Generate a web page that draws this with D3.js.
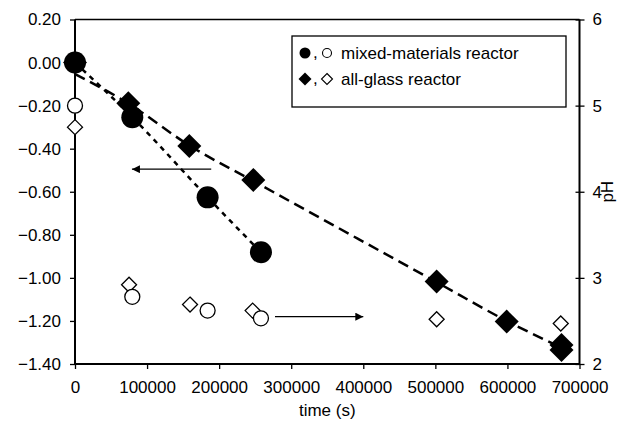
<!DOCTYPE html>
<html>
<head>
<meta charset="utf-8">
<script src="https://cdn.jsdelivr.net/npm/d3@7/dist/d3.min.js"></script>
<style>
  html, body { margin: 0; padding: 0; background: #fff; }
  svg { display: block; font-family: "Liberation Sans", Arial, sans-serif; }
</style>
</head>
<body>
<svg id="chart" width="630" height="428"></svg>
<script>
// ---- data (time in s) ----
// filled circles: mixed-materials reactor, left axis
const mixedTime = [0, 79500, 184000, 258000];
const mixedLeft = [0.00, -0.254, -0.626, -0.881];
// filled diamonds: all-glass reactor, left axis
const glassTime = [0, 74000, 158600, 247400, 501800, 599000, 675000, 675000];
const glassLeft = [0.00, -0.189, -0.387, -0.545, -1.017, -1.203, -1.312, -1.335];
// open circles: mixed-materials reactor, pH
const mixedPHTime = [0, 79500, 184000, 258000];
const mixedPH = [5.00, 2.78, 2.62, 2.53];
// open diamonds: all-glass reactor, pH
const glassPHTime = [0, 75000, 159600, 246500, 501800, 599000, 674000];
const glassPH = [4.75, 2.92, 2.69, 2.62, 2.52, 2.49, 2.47];
// dashed trend line (all-glass)
const glassFitTime = [0, 74000, 158600, 247400, 501800, 599000, 672000];
const glassFitLeft = [-0.053, -0.19, -0.385, -0.55, -1.02, -1.2, -1.32];
// tick labels
const xTicks = [0, 100000, 200000, 300000, 400000, 500000, 600000, 700000];
const yLeftTicks = [0.2, 0.0, -0.2, -0.4, -0.6, -0.8, -1.0, -1.2, -1.4];
const yRightTicks = [2, 3, 4, 5, 6];
// arrows [x1, x2, y] in data units (left arrow on left axis, right arrow on pH axis)
const arrowLeft = [189000, 79000, -0.495];
const arrowRight = [277500, 400000, 2.55];
const legendLabels = ["mixed-materials reactor", "all-glass reactor"];

// ---- layout ----
const svg = d3.select("#chart");
const L = 75, R = 579.5, T = 19.5, B = 364;
const x = d3.scaleLinear().domain([0, 700000]).range([L, R]);
const yL = d3.scaleLinear().domain([-1.4, 0.2]).range([B, T]);
const yR = d3.scaleLinear().domain([2, 6]).range([B, T]);
const FS = 17;

// top border
svg.append("line").attr("x1", L).attr("x2", R).attr("y1", T).attr("y2", T)
  .attr("stroke", "#000").attr("stroke-width", 1.5);

// axes
const gx = svg.append("g").attr("transform", `translate(0,${B})`)
  .call(d3.axisBottom(x).tickValues(xTicks).tickFormat(d3.format("d")).tickSize(5).tickPadding(12));
const gl = svg.append("g").attr("transform", `translate(${L},0)`)
  .call(d3.axisLeft(yL).tickValues(yLeftTicks).tickFormat(d => d3.format(".2f")(d).replace("-", "\u2212")).tickSize(5).tickPadding(9));
const gr = svg.append("g").attr("transform", `translate(${R},0)`)
  .call(d3.axisRight(yR).tickValues(yRightTicks).tickFormat(d3.format("d")).tickSize(5).tickPadding(8));
gr.selectAll(".tick line").attr("x1", -4);
[gx, gl, gr].forEach(g => {
  g.select(".domain").attr("stroke-width", 2).attr("stroke", "#000");
  g.selectAll(".tick line").attr("stroke", "#000").attr("stroke-width", 1.3);
  g.selectAll(".tick text").attr("font-size", FS).attr("fill", "#000")
    .attr("font-family", '"Liberation Sans", Arial, sans-serif');
});
gx.select(".domain").attr("d", `M${L},0H${R}`);
gl.select(".domain").attr("d", `M0,${B}V${T}`);
gr.select(".domain").attr("d", `M0,${B}V${T}`);

// axis titles
svg.append("text").attr("x", (L + R) / 2).attr("y", 416).attr("text-anchor", "middle")
  .attr("font-size", FS).text("time (s)");
svg.append("text").attr("transform", `translate(613,${yR(4)}) rotate(-90)`)
  .attr("text-anchor", "middle").attr("font-size", FS).text("pH");

// lines
const fitData = glassFitTime.map((t, i) => [t, glassFitLeft[i]]);
const mixData = mixedTime.map((t, i) => [t, mixedLeft[i]]);
const lineGen = d3.line().x(d => x(d[0])).y(d => yL(d[1])).curve(d3.curveMonotoneX);
svg.append("path").attr("d", lineGen(fitData)).attr("fill", "none")
  .attr("stroke", "#000").attr("stroke-width", 2.5).attr("stroke-dasharray", "11,6");
svg.append("path").attr("d", lineGen(mixData)).attr("fill", "none")
  .attr("stroke", "#000").attr("stroke-width", 2.5).attr("stroke-dasharray", "5,5");

// markers
const diamond = (s) => `M0,${-s}L${s},0L0,${s}L${-s},0Z`;
// open diamonds (pH)
svg.append("g").selectAll("path").data(glassPHTime.map((t, i) => [t, glassPH[i]])).join("path")
  .attr("transform", d => `translate(${x(d[0])},${yR(d[1])})`)
  .attr("d", diamond(7.5)).attr("fill", "#fff").attr("stroke", "#000").attr("stroke-width", 1.3);
// open circles (pH)
svg.append("g").selectAll("circle").data(mixedPHTime.map((t, i) => [t, mixedPH[i]])).join("circle")
  .attr("cx", d => x(d[0])).attr("cy", d => yR(d[1])).attr("r", 7.5)
  .attr("fill", "#fff").attr("stroke", "#000").attr("stroke-width", 1.3);
// filled diamonds
svg.append("g").selectAll("path").data(glassTime.map((t, i) => [t, glassLeft[i]])).join("path")
  .attr("transform", d => `translate(${x(d[0])},${yL(d[1])})`)
  .attr("d", diamond(12)).attr("fill", "#000");
// filled circles
svg.append("g").selectAll("circle").data(mixData).join("circle")
  .attr("cx", d => x(d[0])).attr("cy", d => yL(d[1])).attr("r", 11).attr("fill", "#000");

// arrows
const defs = svg.append("defs");
defs.append("marker").attr("id", "ah").attr("viewBox", "0 0 10 10").attr("refX", 10).attr("refY", 5)
  .attr("markerWidth", 12).attr("markerHeight", 8).attr("markerUnits", "userSpaceOnUse")
  .attr("orient", "auto").append("path").attr("d", "M0,0L10,5L0,10Z").attr("fill", "#000");
svg.append("line").attr("x1", x(arrowLeft[0])).attr("x2", x(arrowLeft[1]))
  .attr("y1", yL(arrowLeft[2])).attr("y2", yL(arrowLeft[2]))
  .attr("stroke", "#000").attr("stroke-width", 1.2).attr("marker-end", "url(#ah)");
svg.append("line").attr("x1", x(arrowRight[0])).attr("x2", x(arrowRight[1]))
  .attr("y1", yR(arrowRight[2])).attr("y2", yR(arrowRight[2]))
  .attr("stroke", "#000").attr("stroke-width", 1.2).attr("marker-end", "url(#ah)");

// legend
const lg = svg.append("g");
lg.append("rect").attr("x", 292).attr("y", 36).attr("width", 274).attr("height", 71)
  .attr("fill", "#fff").attr("stroke", "#000").attr("stroke-width", 1.3);
const rows = [53, 79];
lg.append("circle").attr("cx", 305).attr("cy", rows[0]).attr("r", 5.5).attr("fill", "#000");
lg.append("circle").attr("cx", 327).attr("cy", rows[0]).attr("r", 4.5).attr("fill", "#fff")
  .attr("stroke", "#000").attr("stroke-width", 1.1);
lg.append("path").attr("transform", `translate(305,${rows[1]})`).attr("d", diamond(6.5)).attr("fill", "#000");
lg.append("path").attr("transform", `translate(327,${rows[1]})`).attr("d", diamond(5.5)).attr("fill", "#fff")
  .attr("stroke", "#000").attr("stroke-width", 1.1);
rows.forEach((ry, i) => {
  lg.append("text").attr("x", 313).attr("y", ry + 5).attr("font-size", FS).text(",");
  lg.append("text").attr("x", 341).attr("y", ry + 6).attr("font-size", FS).text(legendLabels[i]);
});
</script>
</body>
</html>
